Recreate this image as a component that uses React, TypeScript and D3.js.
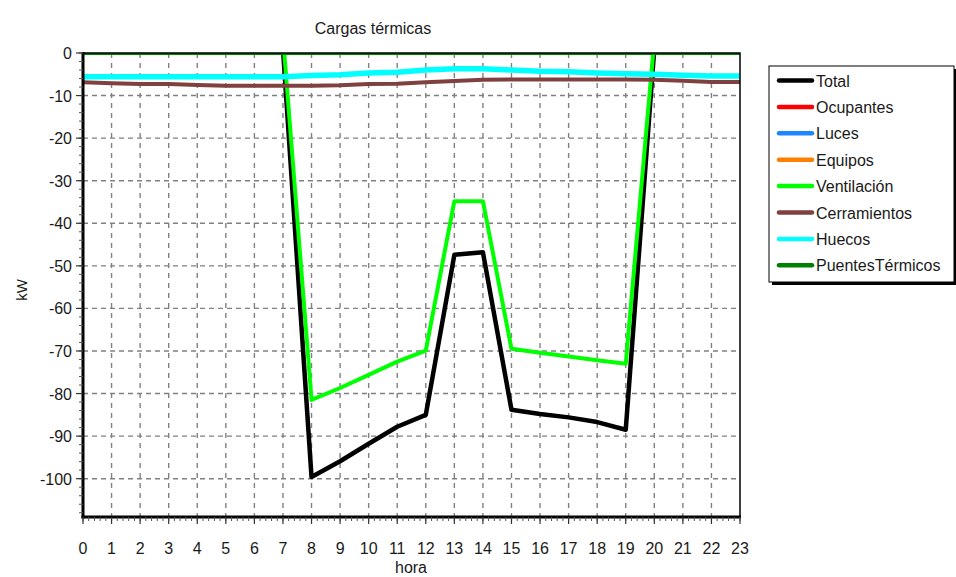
import React from "react";
import * as d3 from "d3";

const hours = [0, 1, 2, 3, 4, 5, 6, 7, 8, 9, 10, 11, 12, 13, 14, 15, 16, 17, 18, 19, 20, 21, 22, 23];
const total = [1, 1, 1, 1, 1, 1, 1, 1, -99.6, -95.9, -91.8, -87.8, -85.0, -47.4, -46.8, -83.8, -84.8, -85.6, -86.7, -88.5, 1, 1, 1, 1];
const ocupantes = [0, 0, 0, 0, 0, 0, 0, 0, 0, 0, 0, 0, 0, 0, 0, 0, 0, 0, 0, 0, 0, 0, 0, 0];
const luces = [0, 0, 0, 0, 0, 0, 0, 0, 0, 0, 0, 0, 0, 0, 0, 0, 0, 0, 0, 0, 0, 0, 0, 0];
const equipos = [0, 0, 0, 0, 0, 0, 0, 0, 0, 0, 0, 0, 0, 0, 0, 0, 0, 0, 0, 0, 0, 0, 0, 0];
const ventilacion = [4, 4, 4, 4, 4, 4, 4, 4, -81.5, -78.7, -75.6, -72.5, -69.9, -34.8, -34.8, -69.5, -70.4, -71.3, -72.2, -73.0, 3, 3, 3, 3];
const cerramientos = [-6.9, -7.1, -7.3, -7.3, -7.5, -7.7, -7.7, -7.7, -7.7, -7.6, -7.3, -7.2, -6.9, -6.6, -6.3, -6.2, -6.2, -6.2, -6.2, -6.2, -6.3, -6.5, -6.8, -6.8];
const huecos = [-5.6, -5.6, -5.6, -5.6, -5.6, -5.6, -5.6, -5.6, -5.3, -5.1, -4.7, -4.5, -4.0, -3.7, -3.7, -4.0, -4.3, -4.4, -4.7, -4.9, -5.0, -5.2, -5.4, -5.4];
const puentes = [0, 0, 0, 0, 0, 0, 0, 0, 0, 0, 0, 0, 0, 0, 0, 0, 0, 0, 0, 0, 0, 0, 0, 0];

const seriesNames = ["Total", "Ocupantes", "Luces", "Equipos", "Ventilación", "Cerramientos", "Huecos", "PuentesTérmicos"];
const seriesValues = [total, ocupantes, luces, equipos, ventilacion, cerramientos, huecos, puentes];
const seriesColors = ["#000000", "#ff0000", "#1e86ff", "#ff8000", "#00ff00", "#804040", "#00ffff", "#008000"];
const seriesWidths = [4.5, 4, 4, 4, 4, 4, 5.5, 4];

const yTicks = [0, -10, -20, -30, -40, -50, -60, -70, -80, -90, -100];
const title = "Cargas térmicas";
const xTitle = "hora";
const yTitle = "kW";

export default function App() {
  const left = 83, right = 740, top = 53, bottom = 517;
  const x = d3.scaleLinear().domain([0, 23]).range([left, right]);
  const y = d3.scaleLinear().domain([-109, 0]).range([bottom, top]);
  const line = d3.line<number>().x((_, i) => x(hours[i])).y((d) => y(d));
  const font = "'Liberation Sans', Arial, sans-serif";
  const textColor = "#1a1a1a";

  const yMinor = d3.range(-108, 0.1, 2);
  const xMinor = d3.range(0, 23.01, 0.2);

  const legX = 769, legY = 66, legW = 185, legH = 216;

  return (
    <svg width={956} height={577} style={{ position: "absolute", left: 0, top: 0, background: "#fff" }} fontFamily={font}>
      <defs>
        <clipPath id="plotclip">
          <rect x={left} y={top} width={right - left} height={bottom - top} />
        </clipPath>
      </defs>
      <rect x={0} y={0} width={956} height={577} fill="#fff" />
      <text x={373} y={34} textAnchor="middle" fontSize={16} fill={textColor}>{title}</text>

      {/* grid */}
      {hours.slice(1, -1).map((h) => (
        <line key={"gx" + h} x1={x(h)} x2={x(h)} y1={top} y2={bottom} stroke="#808080" strokeWidth={1.4} strokeDasharray="5,5" />
      ))}
      {yTicks.slice(1).map((t) => (
        <line key={"gy" + t} x1={left} x2={right} y1={y(t)} y2={y(t)} stroke="#808080" strokeWidth={1.4} strokeDasharray="5,4" />
      ))}

      {/* series */}
      <g clipPath="url(#plotclip)">
        {seriesValues.map((vals, i) => (
          <path key={seriesNames[i]} d={line(vals) || ""} fill="none" stroke={seriesColors[i]} strokeWidth={seriesWidths[i]} strokeLinejoin="round" />
        ))}
      </g>

      {/* frame */}
      <rect x={left} y={top} width={right - left} height={bottom - top} fill="none" stroke="#000" strokeWidth={1.5} />
      <line x1={left} x2={left} y1={top - 1} y2={bottom + 1.5} stroke="#000" strokeWidth={3} />
      <line x1={left - 1.5} x2={right + 1} y1={bottom} y2={bottom} stroke="#000" strokeWidth={3} />

      {/* y ticks */}
      {yMinor.map((t) => (
        <line key={"ym" + t} x1={left - 4} x2={left} y1={y(t)} y2={y(t)} stroke="#555" strokeWidth={1} />
      ))}
      {yTicks.map((t) => (
        <g key={"yt" + t}>
          <line x1={left - 7} x2={left} y1={y(t)} y2={y(t)} stroke="#333" strokeWidth={1.2} />
          <text x={72} y={y(t) + 6} textAnchor="end" fontSize={16} fill={textColor}>{t}</text>
        </g>
      ))}
      <text transform={`translate(27,${(top + bottom) / 2 + 5}) rotate(-90)`} textAnchor="middle" fontSize={15} fill={textColor}>{yTitle}</text>

      {/* x ticks */}
      {xMinor.map((t, i) => (
        <line key={"xm" + i} x1={x(t)} x2={x(t)} y1={bottom} y2={bottom + 4} stroke="#555" strokeWidth={1} />
      ))}
      {hours.map((h) => (
        <g key={"xt" + h}>
          <line x1={x(h)} x2={x(h)} y1={bottom} y2={bottom + 7} stroke="#333" strokeWidth={1.2} />
          <text x={x(h)} y={554} textAnchor="middle" fontSize={16} fill={textColor}>{h}</text>
        </g>
      ))}
      <text x={411} y={573} textAnchor="middle" fontSize={16} fill={textColor}>{xTitle}</text>

      {/* legend */}
      <rect x={legX + 3} y={legY + 3} width={legW} height={legH} fill="#000" />
      <rect x={legX} y={legY} width={legW} height={legH} fill="#fff" stroke="#000" strokeWidth={1} />
      {seriesNames.map((name, i) => {
        const cy = 80.5 + i * 26.4;
        return (
          <g key={"lg" + name}>
            <line x1={779} x2={812} y1={cy} y2={cy} stroke={seriesColors[i]} strokeWidth={4.5} strokeLinecap="round" />
            <text x={816} y={cy + 6} fontSize={16} fill={textColor}>{name}</text>
          </g>
        );
      })}
    </svg>
  );
}
